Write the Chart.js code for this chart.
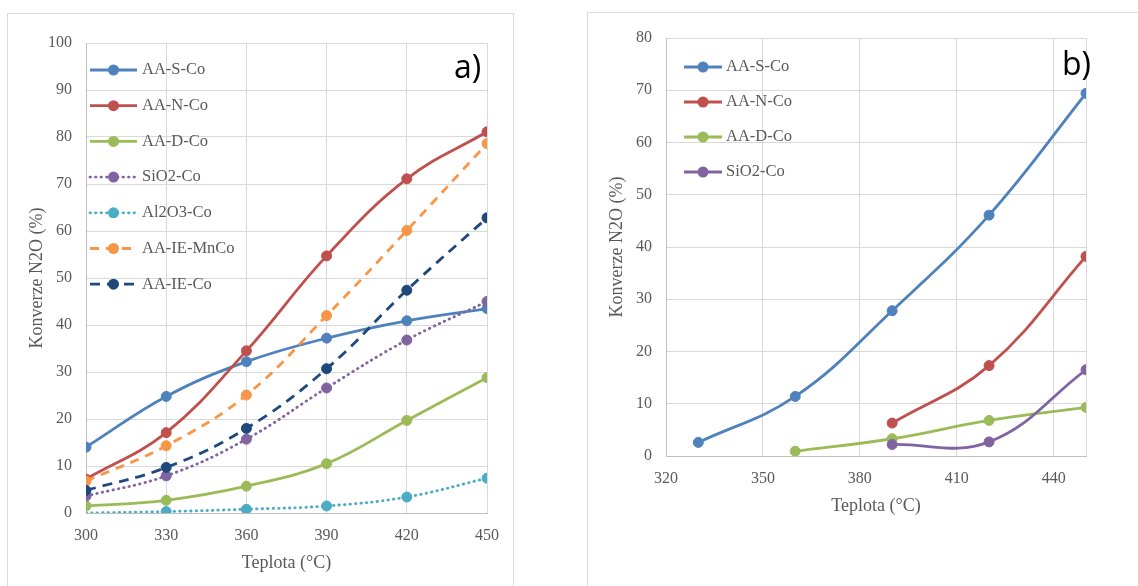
<!DOCTYPE html>
<html>
<head>
<meta charset="utf-8">
<script src="https://cdn.jsdelivr.net/npm/chart.js@4"></script>
<style>
html, body { margin: 0; padding: 0; background: #fff; overflow: hidden; }
body { width: 1138px; height: 586px; position: relative; }
.panel { position: absolute; border: 1px solid #d9d9d9; background: #fff; box-sizing: border-box; overflow: hidden; }
#panelA { left: 7px; top: 13px; width: 507px; height: 590px; }
#panelB { left: 587px; top: 12px; width: 560px; height: 590px; }
canvas { position: absolute; left: 0; top: 0; }
.tag { position: absolute; font-family: "Open Sans", sans-serif; font-size: 32px; color: #000; line-height: 1; }
</style>
</head>
<body>
<div class="panel" id="panelA">
    <canvas id="chartA" width="505" height="572"></canvas>
    <div class="tag" style="left:446px; top:36px;">a)</div>
</div>
<div class="panel" id="panelB">
    <canvas id="chartB" width="550" height="573"></canvas>
    <div class="tag" style="left:474px; top:34px;">b)</div>
</div>
<script>
// ---- data, panel a) ----
const tempsA = [300, 330, 360, 390, 420, 450];
const ticksA = [300, 330, 360, 390, 420, 450];
const aaSCoA = [14.0, 24.8, 32.2, 37.2, 40.9, 43.5];
const aaNCoA = [7.2, 17.1, 34.5, 54.7, 71.1, 81.1];
const aaDCoA = [1.5, 2.7, 5.7, 10.5, 19.7, 28.8];
const sio2CoA = [3.6, 7.9, 15.7, 26.6, 36.8, 45.0];
const al2o3CoA = [0.0, 0.3, 0.8, 1.5, 3.4, 7.4];
const aaIeMnCoA = [6.8, 14.3, 25.1, 42.0, 60.1, 78.6];
const aaIeCoA = [4.8, 9.7, 18.0, 30.7, 47.4, 62.8];

// ---- data, panel b) ----
const tempsB = [330, 360, 390, 420, 450];
const ticksB = [320, 350, 380, 410, 440];
const aaSCoB = [2.6, 11.4, 27.8, 46.1, 69.4];
const aaNCoB = [null, null, 6.3, 17.3, 38.2];
const aaDCoB = [null, 0.9, 3.3, 6.8, 9.3];
const sio2CoB = [null, null, 2.2, 2.7, 16.5];

const serif = '"Liberation Serif", "Times New Roman", serif';
const grey = '#595959';

function pts(xs, ys) {
    return xs.map((x, i) => ({ x: x, y: ys[i] })).filter(p => p.y !== null);
}

function series(label, xs, ys, color, dash, cap) {
    return {
        label: label,
        data: pts(xs, ys),
        borderColor: color,
        backgroundColor: color,
        pointBackgroundColor: color,
        pointBorderColor: color,
        borderWidth: 2.8,
        borderDash: dash || [],
        borderCapStyle: cap || 'butt',
        pointRadius: ctx => (ctx.raw && ctx.raw.y === 0 ? 0 : 5),
        pointBorderWidth: 1,
        tension: 0.4,
        fill: false
    };
}

// legend drawn inside the plot like the Excel original
const insideLegend = {
    id: 'insideLegend',
    afterDatasetsDraw(chart, args, opts) {
        const { ctx, chartArea } = chart;
        ctx.save();
        chart.data.datasets.forEach((ds, i) => {
            const y = chartArea.top + opts.top + i * opts.step;
            const x0 = chartArea.left + opts.lineFrom;
            const x1 = chartArea.left + opts.lineTo;
            ctx.strokeStyle = ds.borderColor;
            ctx.lineWidth = ds.borderWidth;
            ctx.lineCap = ds.borderCapStyle;
            ctx.setLineDash(ds.borderDash);
            ctx.beginPath();
            ctx.moveTo(x0, y);
            ctx.lineTo(x1, y);
            ctx.stroke();
            ctx.setLineDash([]);
            ctx.fillStyle = ds.pointBackgroundColor;
            ctx.beginPath();
            ctx.arc((x0 + x1) / 2, y, 5.5, 0, Math.PI * 2);
            ctx.fill();
            ctx.fillStyle = grey;
            ctx.font = '16.5px ' + serif;
            ctx.textBaseline = 'middle';
            ctx.fillText(ds.label, chartArea.left + opts.textX, y);
        });
        ctx.restore();
    }
};

function makeOptions(xMin, xMax, xTicks, yMax, pad, legend) {
    return {
        responsive: false,
        animation: false,
        layout: { padding: pad },
        plugins: {
            legend: { display: false },
            tooltip: { enabled: false },
            insideLegend: legend
        },
        scales: {
            x: {
                type: 'linear',
                min: xMin,
                max: xMax,
                afterFit: s => { s.height = 73; },
                // gridline at the right edge stays, label only for listed ticks
                afterBuildTicks: s => {
                    const vals = xTicks.slice();
                    if (vals[vals.length - 1] !== xMax) vals.push(xMax);
                    s.ticks = vals.map(v => ({ value: v }));
                },
                grid: { color: '#d9d9d9', drawTicks: false },
                border: { color: '#bfbfbf' },
                ticks: {
                    padding: 13,
                    color: grey,
                    font: { family: serif, size: 16 },
                    callback: v => (xTicks.includes(v) ? v : '')
                },
                title: {
                    display: true,
                    text: 'Teplota (°C)',
                    color: grey,
                    font: { family: serif, size: 18 },
                    padding: { top: 0, bottom: 12 }
                }
            },
            y: {
                min: 0,
                max: yMax,
                afterFit: s => { s.width = 78; },
                grid: { color: '#d9d9d9', drawTicks: false },
                border: { color: '#bfbfbf' },
                ticks: {
                    stepSize: 10,
                    padding: 14,
                    color: grey,
                    font: { family: serif, size: 16 }
                },
                title: {
                    display: true,
                    text: 'Konverze N2O (%)',
                    color: grey,
                    font: { family: serif, size: 18 },
                    padding: { top: 18, bottom: 0 }
                }
            }
        }
    };
}

const setA = [
    series('AA-S-Co', tempsA, aaSCoA, '#4F81BD'),
    series('AA-N-Co', tempsA, aaNCoA, '#C0504D'),
    series('AA-D-Co', tempsA, aaDCoA, '#9BBB59'),
    series('SiO2-Co', tempsA, sio2CoA, '#8064A2', [0.5, 5], 'round'),
    series('Al2O3-Co', tempsA, al2o3CoA, '#4BACC6', [0.5, 5], 'round'),
    series('AA-IE-MnCo', tempsA, aaIeMnCoA, '#F79646', [9, 7]),
    series('AA-IE-Co', tempsA, aaIeCoA, '#1F497D', [10, 7])
];
setA.forEach((d, i) => { d.order = setA.length - i; });

const setB = [
    series('AA-S-Co', tempsB, aaSCoB, '#4F81BD'),
    series('AA-N-Co', tempsB, aaNCoB, '#C0504D'),
    series('AA-D-Co', tempsB, aaDCoB, '#9BBB59'),
    series('SiO2-Co', tempsB, sio2CoB, '#8064A2')
];
setB.forEach((d, i) => { d.order = setB.length - i; });

new Chart(document.getElementById('chartA').getContext('2d'), {
    type: 'line',
    data: { datasets: setA },
    options: makeOptions(300, 450, ticksA, 100,
        { left: 0, top: 29, right: 26, bottom: 0 },
        { top: 27, step: 35.7, lineFrom: 4, lineTo: 51, textX: 56 }),
    plugins: [insideLegend]
});

new Chart(document.getElementById('chartB').getContext('2d'), {
    type: 'line',
    data: { datasets: setB },
    options: makeOptions(320, 450, ticksB, 80,
        { left: 0, top: 25, right: 52, bottom: 57 },
        { top: 29, step: 35, lineFrom: 18, lineTo: 56, textX: 60 }),
    plugins: [insideLegend]
});
</script>
</body>
</html>
